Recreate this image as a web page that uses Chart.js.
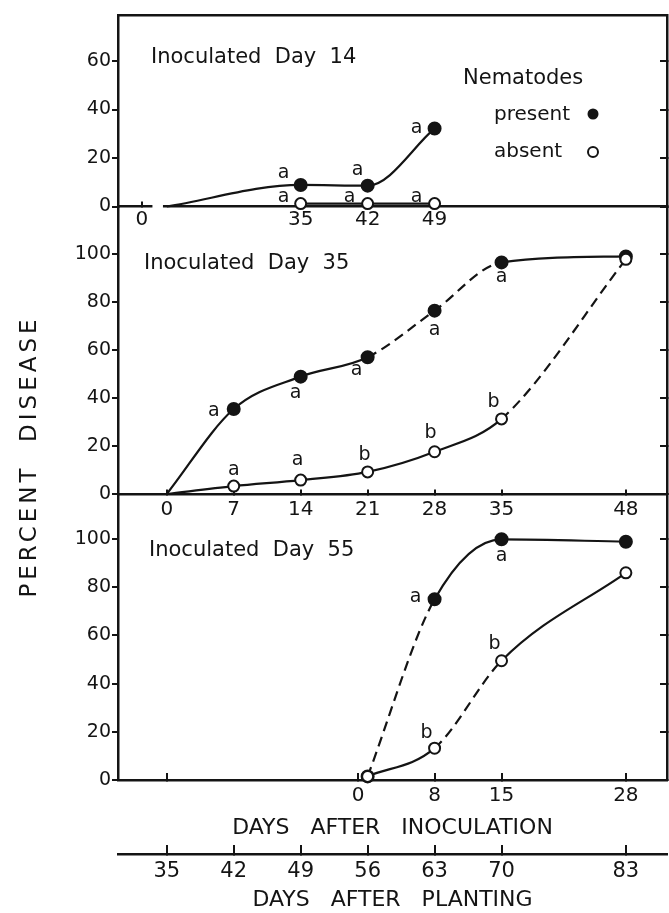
<!DOCTYPE html>
<html>
<head>
<meta charset="utf-8">
<script src="https://cdn.jsdelivr.net/npm/chart.js@4.4.1/dist/chart.umd.min.js"></script>
<style>
  html, body { margin: 0; padding: 0; background: #fff; }
  canvas { display: block; }
</style>
</head>
<body>
<canvas id="fig" width="669" height="913"></canvas>
<script>
// day after planting on which each group was inoculated
const inocDay1 = 14, inocDay2 = 35, inocDay3 = 55;

// upper panel (days after inoculation). 21 = where the curve leaves the axis break
const days1Present = [21, 35, 42, 49];
const pct1Present = [0, 8.9, 8.6, 32.2];
const days1Absent = [35, 42, 49];
const pct1Absent = [1.2, 1.2, 1.2];
const letters1Present = ['', 'a', 'a', 'a'];
const letters1Absent = ['a', 'a', 'a'];

// middle panel
const days2 = [0, 7, 14, 21, 28, 35, 48];
const pct2Present = [0, 35.4, 48.9, 57, 76.4, 96.5, 99];
const pct2Absent = [0, 3.3, 5.8, 9.2, 17.6, 31.3, 97.8];
const letters2Present = ['', 'a', 'a', 'a', 'a', 'a', ''];
const letters2Absent = ['', 'a', 'a', 'b', 'b', 'b', ''];

// lower panel
const days3 = [1, 8, 15, 28];
const pct3Present = [1.5, 75, 99.9, 98.9];
const pct3Absent = [1.5, 13.2, 49.5, 86];
const letters3Present = ['', 'a', 'a', ''];
const letters3Absent = ['', 'b', 'b', ''];

// dashed segments, by index of the segment's first point
const dash2Present = [3, 4];
const dash2Absent = [5];
const dash3Present = [0];
const dash3Absent = [1];

// ticks
const yTicks1 = [0, 20, 40, 60];
const yTicks23 = [0, 20, 40, 60, 80, 100];
const xTicks1 = [18.4, 35, 42, 49];      // axis is broken after 0
const xLabels1 = ['0', '35', '42', '49'];
const axisBreak1 = [19.5, 20.6];
const xTicks2 = [0, 7, 14, 21, 28, 35, 48];
const xLabels2 = ['0', '7', '14', '21', '28', '35', '48'];
const xTicks3 = [-20, 0, 8, 15, 28];
const xLabels3 = ['', '0', '8', '15', '28'];
const plantTicks = [35, 42, 49, 56, 63, 70, 83];
const plantLabels = ['35', '42', '49', '56', '63', '70', '83'];

// letter placement next to its point (px)
const off1Present = [null, [-17, -12], [-10, -16], [-18, 0]];
const off1Absent = [[-17, -7], [-18, -7], [-18, -7]];
const off2Present = [null, [-20, 2], [-5, 16], [-11, 13], [0, 19], [0, 15], null];
const off2Absent = [null, [0, -16], [-3, -20], [-3, -17], [-4, -19], [-8, -17], null];
const off3Present = [null, [-19, -2], [0, 17], null];
const off3Absent = [null, [-8, -15], [-7, -17], null];

const ink = '#141414';
const fam = '"DejaVu Sans"';
Chart.defaults.font.family = 'DejaVu Sans';
Chart.defaults.color = ink;

// line controller that does not pad the chart area for its end markers,
// so the frame can run right to the edge of the figure
class TightLine extends Chart.LineController {
  getMaxOverflow() { return 0; }
}
TightLine.id = 'tightLine';
Chart.register(TightLine);

const X_MIN = 29.9, X_MAX = 87.3;   // days after planting at the frame edges

const fixedTicks = values => scale => { scale.ticks = values.map(v => ({ value: v })); };
const fixHeight = h => s => { s.height = h; };
const shift = (inoc, days) => days.map(d => inoc + d);
const pts = (inoc, days, pct) => days.map((d, i) => ({ x: inoc + d, y: pct[i] }));

function series(data, xAxisID, yAxisID, filled, dashAt, noMarkAt, letters, offsets) {
  return {
    data, xAxisID, yAxisID, letters, offsets,
    borderColor: ink, borderWidth: 2.2,
    cubicInterpolationMode: 'monotone',
    pointRadius: c => noMarkAt.includes(c.dataIndex) ? 0 : (filled ? 6 : 5.5),
    pointBackgroundColor: filled ? ink : '#fff',
    pointBorderColor: ink, pointBorderWidth: 2,
    segment: { borderDash: c => dashAt.includes(c.p0DataIndex) ? [10, 6] : undefined },
    clip: false
  };
}

const leftAxis = (max, ticks, weight, stackWeight) => ({
  type: 'linear', position: 'left', stack: 'left', weight, stackWeight, min: 0, max,
  afterBuildTicks: fixedTicks(ticks),
  afterFit: s => { s.width = 118; },
  grid: { drawOnChartArea: false, tickLength: 6, lineWidth: 2, tickColor: ink },
  border: { color: ink, width: 2.5 },
  ticks: { padding: 1, font: { size: 19 } }
});

const rightAxis = (max, ticks, weight, stackWeight) => ({
  type: 'linear', position: 'right', stack: 'right', weight, stackWeight, min: 0, max,
  afterBuildTicks: fixedTicks(ticks),
  afterFit: s => { s.width = 2; },
  grid: { drawOnChartArea: false, tickLength: -7, lineWidth: 2, tickColor: ink },
  border: { color: ink, width: 2.5 },
  ticks: { display: false }
});

const xAxis = (position, tickDays, labels, tickLength, padding, size, height, extra) => Object.assign({
  type: 'linear', position, min: X_MIN, max: X_MAX,
  afterBuildTicks: fixedTicks(tickDays),
  afterFit: fixHeight(height),
  grid: { drawOnChartArea: false, tickLength, lineWidth: 2, tickColor: ink },
  border: { color: ink, width: 2.5 },
  ticks: { autoSkip: false, maxRotation: 0, padding, font: { size }, callback: (v, i) => labels[i] }
}, extra);

const panelTitles = ['Inoculated  Day  14', 'Inoculated  Day  35', 'Inoculated  Day  55'];
const panelTitleAt = [['y1', 61.6, 33], ['y2', 96.2, 26], ['y3', 95.4, 31]];

const annotate = {
  id: 'annotate',
  beforeDatasetsDraw(chart) {
    const ctx = chart.ctx, xs = chart.scales.xP1, y0 = chart.scales.y1.getPixelForValue(0);
    const a = xs.getPixelForValue(inocDay1 + axisBreak1[0]);
    const b = xs.getPixelForValue(inocDay1 + axisBreak1[1]);
    ctx.save();
    ctx.fillStyle = '#fff';
    ctx.fillRect(a, y0 - 3, b - a, 6);
    ctx.restore();
  },
  afterDatasetsDraw(chart) {
    const ctx = chart.ctx, area = chart.chartArea;
    ctx.save();
    ctx.fillStyle = ink;
    ctx.textBaseline = 'middle';

    // significance letters
    ctx.textAlign = 'center';
    ctx.font = '19px ' + fam;
    chart.data.datasets.forEach((ds, i) => {
      const meta = chart.getDatasetMeta(i);
      ds.letters.forEach((t, j) => {
        if (!t) return;
        const p = meta.data[j];
        ctx.fillText(t, p.x + ds.offsets[j][0], p.y + ds.offsets[j][1]);
      });
    });

    // panel titles
    ctx.textAlign = 'left';
    ctx.font = '21px ' + fam;
    panelTitles.forEach((t, i) => {
      const [id, v, dx] = panelTitleAt[i];
      ctx.fillText(t, area.left + dx, chart.scales[id].getPixelForValue(v));
    });

    // legend
    const lx = area.right - 204, ly = area.top;
    ctx.fillText('Nematodes', lx, ly + 64);
    ctx.font = '20px ' + fam;
    ctx.fillText('present', lx + 31, ly + 100);
    ctx.fillText('absent', lx + 31, ly + 137);
    ctx.lineWidth = 2;
    ctx.strokeStyle = ink;
    ctx.beginPath(); ctx.arc(area.right - 74, ly + 99, 5.5, 0, Math.PI * 2); ctx.fill();
    ctx.beginPath(); ctx.arc(area.right - 74, ly + 137, 5, 0, Math.PI * 2);
    ctx.fillStyle = '#fff'; ctx.fill(); ctx.stroke();

    // y title
    ctx.fillStyle = ink;
    ctx.translate(30, chart.height / 2);
    ctx.rotate(-Math.PI / 2);
    ctx.textAlign = 'center';
    ctx.font = '23px ' + fam;
    ctx.letterSpacing = '4px';
    ctx.fillText('PERCENT  DISEASE', 0, 0);
    ctx.restore();
  }
};

new Chart(document.getElementById('fig'), {
  type: 'tightLine',
  data: {
    datasets: [
      series(pts(inocDay1, days1Absent, pct1Absent), 'xP1', 'y1', false, [], [], letters1Absent, off1Absent),
      series(pts(inocDay1, days1Present, pct1Present), 'xP1', 'y1', true, [], [0], letters1Present, off1Present),
      series(pts(inocDay2, days2, pct2Absent), 'xP2', 'y2', false, dash2Absent, [0], letters2Absent, off2Absent),
      series(pts(inocDay2, days2, pct2Present), 'xP2', 'y2', true, dash2Present, [0], letters2Present, off2Present),
      series(pts(inocDay3, days3, pct3Absent), 'xI3', 'y3', false, dash3Absent, [], letters3Absent, off3Absent),
      series(pts(inocDay3, days3, pct3Present), 'xI3', 'y3', true, dash3Present, [], letters3Present, off3Present)
    ]
  },
  options: {
    responsive: false,
    devicePixelRatio: 1,
    animation: false,
    events: [],
    layout: { padding: 0 },
    plugins: { legend: { display: false }, tooltip: { enabled: false } },
    scales: {
      y1: leftAxis(79, yTicks1, 3, 191.5),
      y2: leftAxis(119.8, yTicks23, 2, 287.5),
      y3: leftAxis(118.7, yTicks23, 1, 286),
      yR1: rightAxis(79, yTicks1, 1, 191.5),
      yR2: rightAxis(119.8, yTicks23, 2, 287.5),
      yR3: rightAxis(118.7, yTicks23, 3, 286),
      xTop: {
        type: 'linear', position: 'top', min: X_MIN, max: X_MAX,
        afterFit: fixHeight(15),
        grid: { display: false }, ticks: { display: false },
        border: { color: ink, width: 2.5 }
      },
      xP1: xAxis({ y1: 0 }, shift(inocDay1, xTicks1), xLabels1, -6, 7.5, 20, 30),
      xP2: xAxis({ y2: 0 }, shift(inocDay2, xTicks2), xLabels2, -6, 9.5, 20, 30),
      xI3: xAxis('bottom', shift(inocDay3, xTicks3), xLabels3, -7, 11, 20, 74, {
        weight: 1,
        title: { display: true, text: 'DAYS   AFTER   INOCULATION', font: { size: 22 }, padding: { top: 0, bottom: 12.8 } }
      }),
      xPlant: xAxis('bottom', plantTicks, plantLabels, -9, 14, 21, 59, {
        weight: 2,
        title: { display: true, text: 'DAYS   AFTER   PLANTING', font: { size: 22 }, padding: { top: 0, bottom: 0 } }
      })
    }
  },
  plugins: [annotate]
});
</script>
</body>
</html>
